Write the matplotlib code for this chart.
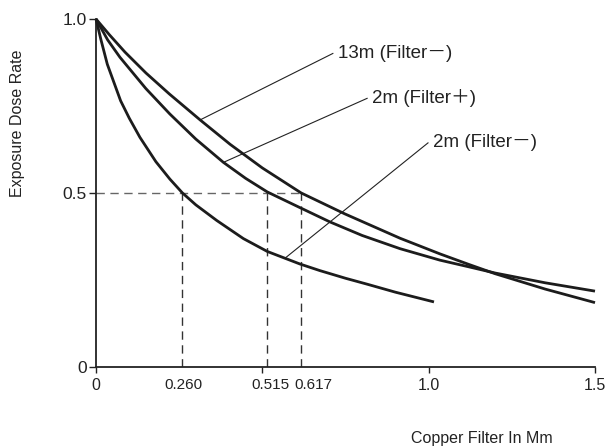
import matplotlib
matplotlib.use("Agg")
import matplotlib.pyplot as plt
from matplotlib.transforms import ScaledTranslation
import numpy as np

plt.rcParams["font.family"] = ["Liberation Sans", "Noto Sans CJK JP", "DejaVu Sans"]

# ---- data ----
# 2m (Filter-)
x_2m_minus = [0, 0.015, 0.034, 0.074, 0.10, 0.132, 0.18, 0.222, 0.26, 0.30,
              0.363, 0.443, 0.515, 0.613, 0.673, 0.75, 0.815, 0.90, 1.016]
y_2m_minus = [1.0, 0.94, 0.87, 0.765, 0.715, 0.66, 0.59, 0.54, 0.50, 0.466,
              0.421, 0.369, 0.332, 0.296, 0.277, 0.255, 0.238, 0.215, 0.187]

# 2m (Filter+)
x_2m_plus = [0, 0.035, 0.072, 0.15, 0.222, 0.30, 0.383, 0.45, 0.515, 0.613,
             0.703, 0.80, 0.914, 1.034, 1.12, 1.2, 1.35, 1.5]
y_2m_plus = [1.0, 0.94, 0.89, 0.80, 0.727, 0.655, 0.588, 0.542, 0.503, 0.458,
             0.417, 0.378, 0.340, 0.307, 0.288, 0.270, 0.242, 0.218]

# 13m (Filter-)
x_13m_minus = [0, 0.04, 0.087, 0.15, 0.22, 0.313, 0.403, 0.50, 0.617, 0.748,
               0.914, 1.034, 1.12, 1.2, 1.35, 1.5]
y_13m_minus = [1.0, 0.955, 0.905, 0.845, 0.785, 0.710, 0.640, 0.572, 0.500, 0.440,
               0.370, 0.325, 0.295, 0.268, 0.224, 0.185]

half_value = [0.260, 0.515, 0.617]
half_labels = ["0.260", "0.515", "0.617"]

labels = ["13m (Filter\uff0d)", "2m (Filter\uff0b)", "2m (Filter\uff0d)"]
label_pos = [(0.727, 0.901), (0.83, 0.772), (1.013, 0.644)]
leader_x = [0.313, 0.383, 0.568]   # where each leader touches its curve

fig = plt.figure(figsize=(6.07, 4.46), dpi=100)
ax = fig.add_axes([96 / 607, 79 / 446, 499 / 607, 348 / 446])

curve_col = "#1c1c1c"
for xs, ys in [(x_2m_minus, y_2m_minus), (x_2m_plus, y_2m_plus), (x_13m_minus, y_13m_minus)]:
    ax.plot(xs, ys, color=curve_col, lw=2.0, solid_capstyle="butt", clip_on=False, zorder=3)

# half-value dashed guides
ax.plot([0, max(half_value)], [0.5, 0.5], color="#666666", lw=1.0, dashes=(6, 4), zorder=2)
for hv in half_value:
    ax.plot([hv, hv], [0, 0.5], color="#333333", lw=1.0, dashes=(6, 4), zorder=2)

# labels with leader lines
curves = [(x_13m_minus, y_13m_minus), (x_2m_plus, y_2m_plus), (x_2m_minus, y_2m_minus)]
for txt, (tx, ty), lx, (cx, cy) in zip(labels, label_pos, leader_x, curves):
    ly = np.interp(lx, cx, cy)
    ax.plot([lx, tx - 0.015], [ly, ty], color="#222222", lw=0.8, zorder=2)
    ax.text(tx, ty, txt, fontsize=13.5, color="#222222", ha="left", va="center")

ax.set_xlim(0, 1.5)
ax.set_ylim(0, 1.0)
for side in ["top", "right"]:
    ax.spines[side].set_visible(False)
for side in ["left", "bottom"]:
    ax.spines[side].set_linewidth(1.3)
    ax.spines[side].set_color("#222222")

ax.set_xticks([0, 0.5, 1.0, 1.5])
ax.set_xticklabels(["0", "", "1.0", "1.5"])
ax.set_xticks(half_value, minor=True)
ax.set_xticklabels(half_labels, minor=True)
ax.tick_params(axis="x", which="major", direction="out", length=4.5, width=1, pad=3.5, labelsize=11.5, colors="#222222")
ax.tick_params(axis="x", which="minor", length=0, pad=7.6, labelsize=11, colors="#222222")
ax.set_yticks([0, 0.5, 1.0])
ax.set_yticklabels(["0", "0.5", "1.0"])
ax.tick_params(axis="y", direction="out", length=5, width=1, pad=1.5, labelsize=12.5, colors="#222222")

# nudge the two crowded labels apart as in the reference
minor_labs = ax.get_xticklabels(minor=True)
for lab, dx in zip(minor_labs, [1, 3, 12]):
    lab.set_transform(lab.get_transform() + ScaledTranslation(dx / 100, 0, fig.dpi_scale_trans))

fig.text(18 / 607, 1 - 123 / 446, "Exposure Dose Rate", rotation=90, ha="center", va="center",
         fontsize=11.5, color="#222222")
fig.text(482 / 607, 1 - 438 / 446, "Copper Filter In Mm", ha="center", va="center",
         fontsize=11.5, color="#222222")

fig.savefig("out.png", dpi=100)
